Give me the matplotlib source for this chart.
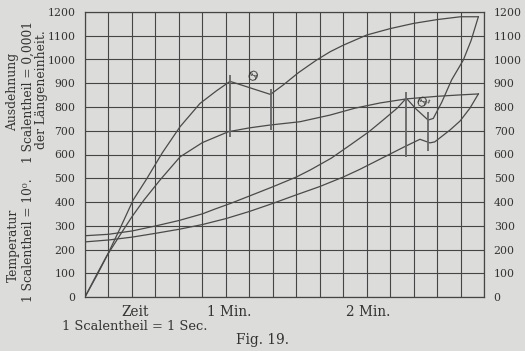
import matplotlib
matplotlib.use("Agg")
from matplotlib import pyplot as plt

# Zeit in Sekunden, Werte in Scalentheilen
time_a = [0, 5, 9.2, 15, 20.5, 26, 33, 40.5, 49, 56, 61.8, 79, 84.5, 91, 98.7,
          104.5, 110, 120, 130, 140, 150, 160, 167.6]
exp_a = [0, 90, 170, 290, 408, 493, 608, 717, 815, 868, 908, 853, 893, 945, 998,
         1033, 1060, 1103, 1130, 1152, 1168, 1180, 1180]

time_b = [0, 5, 9.2, 15, 20, 25.1, 32, 40.5, 50, 61.1, 70, 78.8, 91.6, 104.4,
          115, 125.7, 136.8, 150, 160, 167.6]
exp_b = [0, 95, 172, 262, 338, 408, 493, 590, 650, 696, 712, 724, 738, 766,
         795, 817, 834, 845, 851, 855]

time_t1 = [0, 10, 20, 30, 40, 50, 55, 62, 70, 80, 90, 96, 105, 113, 121, 127,
           133, 136.9, 141, 146.2, 148.4, 152, 156.2, 161.2, 164.5, 167.6]
temp_t1 = [258, 264, 278, 299, 322, 350, 369, 394, 425, 464, 505, 535, 585, 640,
           696, 745, 795, 837, 792, 745, 752, 820, 914, 998, 1080, 1180]

time_t2 = [0, 10, 20, 30, 40, 50, 60, 70, 80, 90, 100, 110, 117, 122, 126, 130,
           136, 142.7, 147, 149, 155.5, 159.8, 164, 167.6]
temp_t2 = [232, 240, 252, 268, 285, 305, 330, 360, 394, 430, 465, 505, 537, 562,
           582, 602, 632, 664, 649, 653, 703, 741, 795, 855]

# Markierungen bei Theta und Theta'
mark_x = [61.6, 79.1, 136.9, 146.3]
mark_lo = [675, 703, 590, 614]
mark_hi = [935, 876, 863, 780]

y_ticks = list(range(0, 1201, 100))
x_grid = list(range(0, 171, 10))

BG = "#dcdcda"
INK = "#454545"
W, H = 525, 351


def px(x, y):
    return x / W, 1 - y / H


fig = plt.figure(figsize=(W / 100, H / 100), dpi=100)
fig.patch.set_facecolor(BG)
ax = fig.add_axes([85 / W, 1 - 297 / H, 399 / W, 285 / H])
ax.set_facecolor(BG)
ax.set_xlim(0, 170)
ax.set_ylim(0, 1200)
ax.set_xticks(x_grid)
ax.set_yticks(y_ticks)
ax.grid(True, color=INK, lw=0.8)
ax.set_axisbelow(True)
for sp in ax.spines.values():
    sp.set_color(INK)
    sp.set_linewidth(0.9)
ax.tick_params(length=0, labelbottom=False, labelleft=True, labelright=True,
               pad=7, labelsize=7.8, labelcolor="#333333")
for lab in ax.get_yticklabels():
    lab.set_family("DejaVu Serif")

line_kw = dict(color="#4a4a4a", lw=0.9)
ax.plot(time_a, exp_a, **line_kw)
ax.plot(time_b, exp_b, **line_kw)
ax.plot(time_t1, temp_t1, **line_kw)
ax.plot(time_t2, temp_t2, **line_kw)
ax.vlines(mark_x, mark_lo, mark_hi, color="#666666", lw=1.3)

ax.text(71, 928, "Θ", family="DejaVu Serif", fontsize=9, rotation=-25,
        ha="center", va="center", color="#333333")
ax.text(143.5, 815, "Θ'", family="DejaVu Serif", fontsize=9, rotation=-25,
        ha="center", va="center", color="#333333")

txt = dict(family="DejaVu Serif", fontsize=8.8, color="#333333",
           ha="center", va="center")
fig.text(*px(13, 92), "Ausdehnung", rotation=90, **txt)
fig.text(*px(28, 92), "1 Scalentheil = 0,0001", rotation=90, **txt)
fig.text(*px(42, 90), "der Längeneinheit.", rotation=90, **txt)
fig.text(*px(13, 245), "Temperatur", rotation=90, **txt)
fig.text(*px(28, 240), "1 Scalentheil = 10⁰.", rotation=90, **txt)

bottom = dict(txt, fontsize=9.8)
fig.text(*px(135, 312), "Zeit", **bottom)
fig.text(*px(229, 312), "1 Min.", **bottom)
fig.text(*px(368, 312), "2 Min.", **bottom)
fig.text(*px(135, 326), "1 Scalentheil = 1 Sec.", **dict(txt, fontsize=9.4))
fig.text(*px(263, 340), "Fig. 19.", **bottom)

fig.savefig("out.png", dpi=100, facecolor=BG)
